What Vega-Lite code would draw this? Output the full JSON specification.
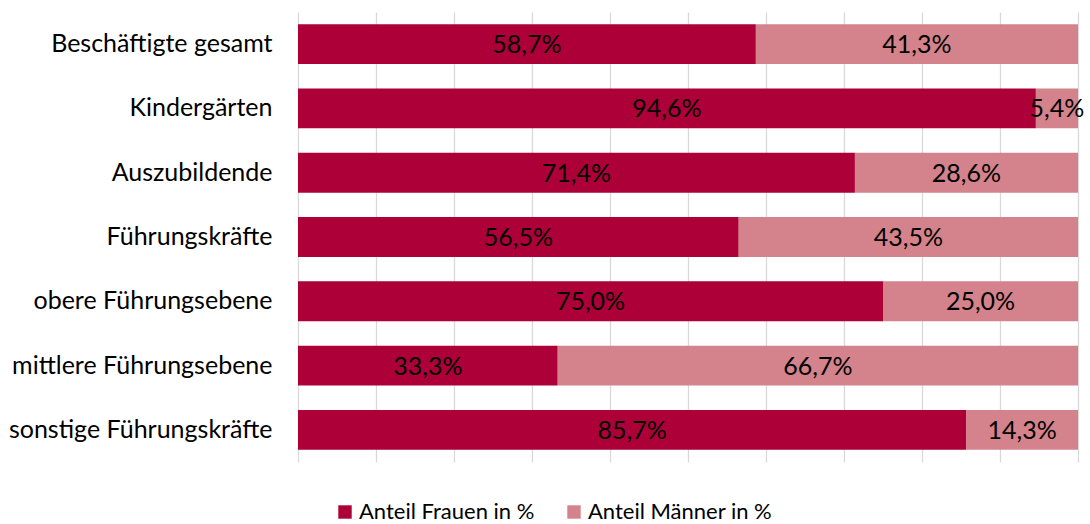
{
  "$schema": "https://vega.github.io/schema/vega-lite/v6.json",
  "autosize": {"type": "none"},
  "padding": {"left": 298, "top": 12, "right": 12, "bottom": 62},
  "width": 780,
  "height": 450,
  "config": {
    "view": {"stroke": null},
    "font": "Lato",
    "locale": {"number": {"decimal": ",", "thousands": ".", "grouping": [3], "currency": ["", " €"]}}
  },
  "data": {"values": [
    {"kat": "Beschäftigte gesamt", "gruppe": "Anteil Frauen in %", "ord": 1, "anteil": 0.587},
    {"kat": "Beschäftigte gesamt", "gruppe": "Anteil Männer in %", "ord": 2, "anteil": 0.413},
    {"kat": "Kindergärten", "gruppe": "Anteil Frauen in %", "ord": 1, "anteil": 0.946},
    {"kat": "Kindergärten", "gruppe": "Anteil Männer in %", "ord": 2, "anteil": 0.054},
    {"kat": "Auszubildende", "gruppe": "Anteil Frauen in %", "ord": 1, "anteil": 0.714},
    {"kat": "Auszubildende", "gruppe": "Anteil Männer in %", "ord": 2, "anteil": 0.286},
    {"kat": "Führungskräfte", "gruppe": "Anteil Frauen in %", "ord": 1, "anteil": 0.565},
    {"kat": "Führungskräfte", "gruppe": "Anteil Männer in %", "ord": 2, "anteil": 0.435},
    {"kat": "obere Führungsebene", "gruppe": "Anteil Frauen in %", "ord": 1, "anteil": 0.75},
    {"kat": "obere Führungsebene", "gruppe": "Anteil Männer in %", "ord": 2, "anteil": 0.25},
    {"kat": "mittlere Führungsebene", "gruppe": "Anteil Frauen in %", "ord": 1, "anteil": 0.333},
    {"kat": "mittlere Führungsebene", "gruppe": "Anteil Männer in %", "ord": 2, "anteil": 0.667},
    {"kat": "sonstige Führungskräfte", "gruppe": "Anteil Frauen in %", "ord": 1, "anteil": 0.857},
    {"kat": "sonstige Führungskräfte", "gruppe": "Anteil Männer in %", "ord": 2, "anteil": 0.143}
  ]},
  "transform": [
    {"stack": "anteil", "groupby": ["kat"], "sort": [{"field": "ord", "order": "ascending"}], "as": ["a0", "a1"]},
    {"calculate": "(datum.a0 + datum.a1) / 2", "as": "mitte"}
  ],
  "encoding": {
    "y": {
      "field": "kat", "type": "nominal", "sort": null,
      "scale": {"paddingInner": 0.38, "paddingOuter": 0.19},
      "axis": {"title": null, "domain": false, "ticks": false, "labelPadding": 26, "labelFontSize": 25, "labelLimit": 400, "labelColor": "#000000", "labelFont": "Lato"}
    }
  },
  "layer": [
    {
      "mark": {"type": "bar"},
      "encoding": {
        "x": {"field": "a0", "type": "quantitative", "scale": {"domain": [0, 1], "nice": false},
          "axis": {"title": null, "labels": false, "ticks": false, "domain": false, "grid": true, "gridColor": "#d9d9d9", "gridWidth": 1.3, "values": [0, 0.1, 0.2, 0.3, 0.4, 0.5, 0.6, 0.7, 0.8, 0.9, 1]}},
        "x2": {"field": "a1"},
        "color": {
          "field": "gruppe", "type": "nominal",
          "scale": {"domain": ["Anteil Frauen in %", "Anteil Männer in %"], "range": ["#ad0039", "#d4838c"]},
          "legend": {"title": null, "orient": "none", "legendX": 36, "legendY": 489, "direction": "horizontal", "symbolType": "square", "symbolSize": 180, "symbolStrokeWidth": 0, "symbolOpacity": 1, "labelFontSize": 22, "labelLimit": 400, "labelColor": "#000000", "labelFont": "Lato", "columnPadding": 28, "labelOffset": 3}
        }
      }
    },
    {
      "mark": {"type": "text", "fontSize": 25, "color": "#000000", "font": "Lato", "align": "center", "baseline": "middle", "dy": 1},
      "encoding": {
        "x": {"field": "mitte", "type": "quantitative"},
        "text": {"field": "anteil", "type": "quantitative", "format": ".1%"}
      }
    }
  ]
}
